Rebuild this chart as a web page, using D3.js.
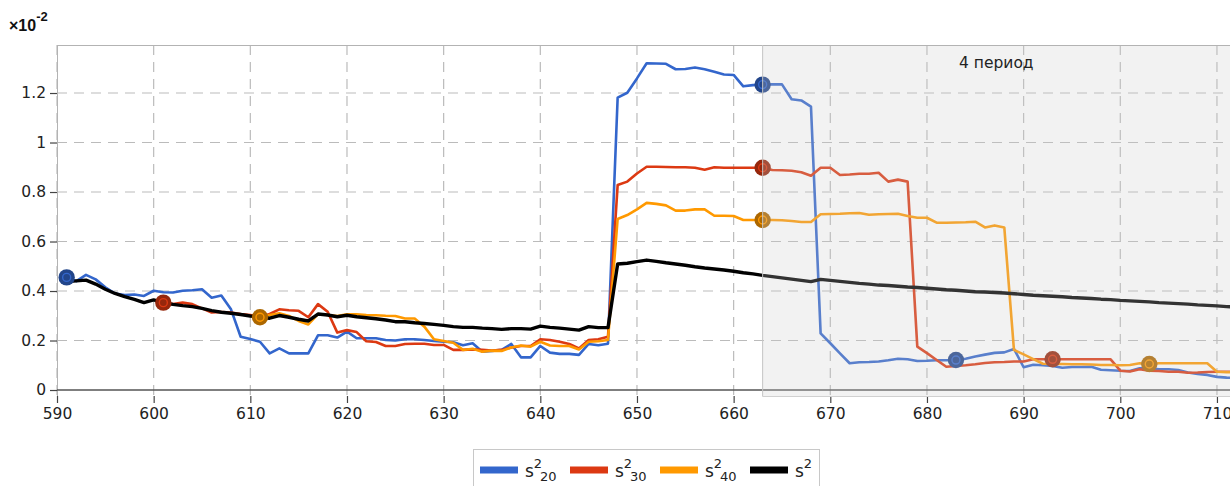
<!DOCTYPE html>
<html>
<head>
<meta charset="utf-8">
<script src="https://cdn.jsdelivr.net/npm/d3@7"></script>
<style>
  html, body { margin: 0; padding: 0; background: #fff; }
  svg { display: block; font-family: "DejaVu Sans", Verdana, sans-serif; }
</style>
</head>
<body>
<svg id="chart" width="1230" height="486"></svg>
<script>
// x ticks (day index) and y ticks (×10^-2)
const xTicks = [590, 600, 610, 620, 630, 640, 650, 660, 670, 680, 690, 700, 710];
const yTicks = [0, 0.2, 0.4, 0.6, 0.8, 1, 1.2];
const yTickLabels = ["0", "0.2", "0.4", "0.6", "0.8", "1", "1.2"];

// first day of each series
const start20 = 591, start30 = 601, start40 = 611, startAll = 591;

// s²20 — window of 20
const s20 = [
  0.455, 0.44, 0.465, 0.447, 0.415, 0.39, 0.384, 0.386, 0.38, 0.401,
  0.395, 0.394, 0.401, 0.403, 0.407, 0.373, 0.382, 0.326, 0.215, 0.206,
  0.195, 0.148, 0.168, 0.148, 0.148, 0.148, 0.221, 0.221, 0.212, 0.236,
  0.209, 0.209, 0.209, 0.202, 0.2, 0.205, 0.205, 0.202, 0.198, 0.195,
  0.193, 0.181, 0.189, 0.155, 0.158, 0.162, 0.186, 0.132, 0.132, 0.178,
  0.151, 0.146, 0.146, 0.142, 0.186, 0.181, 0.187, 1.181, 1.201, 1.259,
  1.32, 1.319, 1.318, 1.296, 1.297, 1.303, 1.296, 1.286, 1.275, 1.273,
  1.227, 1.232, 1.234, 1.235, 1.235, 1.175, 1.17, 1.145, 0.229, 0.189,
  0.148, 0.108, 0.112, 0.113, 0.115, 0.12, 0.126, 0.124, 0.117, 0.118,
  0.12, 0.12, 0.121, 0.126, 0.135, 0.143, 0.15, 0.152, 0.166, 0.092,
  0.102, 0.1, 0.097, 0.09, 0.093, 0.093, 0.094, 0.082, 0.08, 0.078,
  0.077, 0.088, 0.088, 0.084, 0.084, 0.081, 0.071, 0.065, 0.061, 0.053,
  0.05, 0.048
];

// s²30 — window of 30
const s30 = [
  0.353, 0.347, 0.353, 0.347, 0.33, 0.313, 0.315, 0.313, 0.307, 0.303,
  0.294, 0.307, 0.326, 0.322, 0.32, 0.294, 0.347, 0.316, 0.232, 0.242,
  0.234, 0.197, 0.194, 0.178, 0.178, 0.186, 0.187, 0.187, 0.182, 0.182,
  0.162, 0.162, 0.164, 0.162, 0.159, 0.162, 0.172, 0.178, 0.178, 0.205,
  0.202, 0.195, 0.186, 0.168, 0.202, 0.205, 0.215, 0.828, 0.842, 0.875,
  0.902, 0.902, 0.901, 0.9, 0.9, 0.898, 0.89, 0.9, 0.898, 0.898,
  0.898, 0.898, 0.898, 0.889, 0.888, 0.886, 0.88, 0.866, 0.898, 0.898,
  0.869, 0.871, 0.874, 0.874, 0.878, 0.842, 0.85, 0.842, 0.175, 0.149,
  0.121, 0.094, 0.097, 0.1, 0.104, 0.109, 0.112, 0.113, 0.115, 0.115,
  0.124, 0.124, 0.124, 0.124, 0.124, 0.124, 0.124, 0.124, 0.124, 0.078,
  0.075, 0.084, 0.078, 0.077, 0.074, 0.074, 0.07, 0.071, 0.073, 0.074,
  0.074, 0.074
];

// s²40 — window of 40
const s40 = [
  0.294, 0.303, 0.31, 0.299, 0.279, 0.265, 0.307, 0.303, 0.299, 0.306,
  0.306, 0.303, 0.302, 0.3, 0.299, 0.289, 0.289, 0.256, 0.205, 0.198,
  0.191, 0.162, 0.167, 0.155, 0.159, 0.158, 0.172, 0.18, 0.175, 0.195,
  0.18, 0.178, 0.178, 0.164, 0.195, 0.197, 0.202, 0.691, 0.707, 0.73,
  0.756, 0.752, 0.746, 0.725, 0.725, 0.73, 0.73, 0.704, 0.704, 0.703,
  0.687, 0.687, 0.687, 0.687, 0.686, 0.683, 0.679, 0.679, 0.71, 0.711,
  0.712, 0.714, 0.715, 0.708, 0.71, 0.711, 0.712, 0.703, 0.696, 0.696,
  0.676, 0.676, 0.677, 0.678, 0.68, 0.657, 0.665, 0.657, 0.162, 0.144,
  0.125, 0.106, 0.105, 0.105, 0.104, 0.104, 0.103, 0.101, 0.101, 0.1,
  0.101, 0.108, 0.105, 0.108, 0.108, 0.108, 0.108, 0.108, 0.108, 0.074,
  0.072, 0.072
];

// s² — cumulative
const sAll = [
  0.438, 0.441, 0.444, 0.428, 0.407, 0.39, 0.377, 0.366, 0.353, 0.364,
  0.353, 0.346, 0.341, 0.337, 0.33, 0.321, 0.314, 0.31, 0.305, 0.299,
  0.294, 0.29, 0.301, 0.294, 0.286, 0.279, 0.307, 0.303, 0.296, 0.302,
  0.296, 0.292, 0.288, 0.283, 0.276, 0.276, 0.272, 0.269, 0.265, 0.261,
  0.256, 0.253, 0.253, 0.25, 0.248, 0.245, 0.248, 0.248, 0.246, 0.258,
  0.253, 0.25, 0.246, 0.242, 0.256, 0.252, 0.252, 0.509, 0.512, 0.519,
  0.525, 0.52, 0.514, 0.509, 0.504, 0.498, 0.493, 0.489, 0.485, 0.48,
  0.474, 0.469, 0.463, 0.458, 0.453, 0.448, 0.443, 0.438, 0.447, 0.443,
  0.439, 0.435, 0.431, 0.428, 0.424, 0.422, 0.419, 0.416, 0.414, 0.411,
  0.408, 0.405, 0.403, 0.4, 0.397, 0.396, 0.394, 0.392, 0.389, 0.386,
  0.383, 0.381, 0.379, 0.377, 0.374, 0.372, 0.37, 0.367, 0.365, 0.362,
  0.36, 0.358, 0.356, 0.353, 0.351, 0.349, 0.347, 0.344, 0.342, 0.34,
  0.337, 0.335
];

// highlighted points (day) per series
const marks20 = [591, 663, 683];
const marks30 = [601, 663, 693];
const marks40 = [611, 663, 703];

// period band
const periodStart = 663;
const periodLabel = "4 период";

const colors = { s20: "#3366cc", s30: "#dc3912", s40: "#ff9900", sAll: "#000000" };

const plotLeft = 57, plotRight = 1230, plotTop = 45, plotBottom = 396;
const tickFont = "'DejaVu Sans', Verdana, sans-serif";

const x = d3.scaleLinear().domain([590, 711.35]).range([plotLeft, plotRight]);
const y = d3.scaleLinear().domain([-0.0242, 1.394]).range([plotBottom, plotTop]);

const svg = d3.select("#chart");

svg.append("defs").append("clipPath").attr("id", "plotclip")
  .append("rect").attr("x", plotLeft).attr("y", plotTop - 2)
  .attr("width", plotRight - plotLeft).attr("height", plotBottom - plotTop + 4);

// grid
const grid = svg.append("g");
grid.selectAll("line.v").data(xTicks).join("line")
  .attr("x1", d => x(d)).attr("x2", d => x(d))
  .attr("y1", plotTop).attr("y2", plotBottom)
  .attr("stroke", "#bbbbbb").attr("stroke-width", 1.2)
  .attr("stroke-dasharray", "10,7");
grid.selectAll("line.h").data(yTicks.filter(d => d !== 0)).join("line")
  .attr("x1", plotLeft).attr("x2", plotRight)
  .attr("y1", d => y(d)).attr("y2", d => y(d))
  .attr("stroke", "#bbbbbb").attr("stroke-width", 1.2)
  .attr("stroke-dasharray", "10,7");

// frame
svg.append("line").attr("x1", plotLeft).attr("x2", plotRight)
  .attr("y1", plotTop + 0.5).attr("y2", plotTop + 0.5).attr("stroke", "#b3b3b3");
svg.append("line").attr("x1", plotLeft + 0.5).attr("x2", plotLeft + 0.5)
  .attr("y1", plotTop).attr("y2", plotBottom).attr("stroke", "#b3b3b3");

// zero baseline
svg.append("line").attr("x1", plotLeft).attr("x2", plotRight).attr("y1", y(0)).attr("y2", y(0))
  .attr("stroke", "#555").attr("stroke-width", 1.6);

// axes
const xAxis = d3.axisBottom(x).tickValues(xTicks).tickSize(7).tickPadding(5).tickFormat(d3.format("d"));
const gx = svg.append("g").attr("transform", `translate(0,${plotBottom})`).call(xAxis);
gx.select(".domain").remove();
gx.selectAll(".tick line").attr("stroke", "#444").attr("stroke-width", 1.2);
gx.selectAll(".tick text").attr("fill", "#222").style("font-size", "15.5px")
  .style("font-family", tickFont);

const yAxis = d3.axisLeft(y).tickValues(yTicks).tickSize(7).tickPadding(4)
  .tickFormat((d, i) => yTickLabels[i]);
const gy = svg.append("g").attr("transform", `translate(${plotLeft},0)`).call(yAxis);
gy.select(".domain").remove();
gy.selectAll(".tick line").attr("stroke", "#444").attr("stroke-width", 1.2);
gy.selectAll(".tick text").attr("fill", "#222").style("font-size", "15.5px")
  .style("font-family", tickFont);

// scale factor label
const unit = svg.append("text").attr("x", 9).attr("y", 31)
  .attr("fill", "#111").style("font-family", "'Liberation Sans', Arial, sans-serif")
  .style("font-size", "16px").style("font-weight", "bold");
unit.append("tspan").text("×10");
unit.append("tspan").attr("dy", -10).style("font-size", "13px").text("-2");

// series
const series = [
  { key: "s20", start: start20, values: s20, marks: marks20, width: 2.6 },
  { key: "s30", start: start30, values: s30, marks: marks30, width: 2.6 },
  { key: "s40", start: start40, values: s40, marks: marks40, width: 2.6 },
  { key: "sAll", start: startAll, values: sAll, marks: [], width: 3.4 }
];

const plot = svg.append("g").attr("clip-path", "url(#plotclip)");
const line = d3.line().x(d => x(d.day)).y(d => y(d.v));

series.forEach(s => {
  const pts = s.values.map((v, i) => ({ day: s.start + i, v }));
  plot.append("path").datum(pts)
    .attr("d", line)
    .attr("fill", "none")
    .attr("stroke", colors[s.key])
    .attr("stroke-width", s.width)
    .attr("stroke-linejoin", "round");
});

series.forEach(s => {
  s.marks.forEach(day => {
    const v = s.values[day - s.start];
    const c = d3.color(colors[s.key]);
    const g = plot.append("g").attr("transform", `translate(${x(day)},${y(v)})`);
    g.append("circle").attr("r", 8.2).attr("fill", c.darker(1.1).formatHex());
    g.append("circle").attr("r", 4).attr("fill", "none")
      .attr("stroke", c.formatHex()).attr("stroke-width", 1.4);
  });
});

// period band drawn over the lines
const band = svg.append("g");
band.append("rect")
  .attr("x", x(periodStart)).attr("y", plotTop + 1)
  .attr("width", plotRight - x(periodStart)).attr("height", plotBottom - plotTop)
  .attr("fill", "rgb(205,205,205)").attr("fill-opacity", 0.25);
band.append("line")
  .attr("x1", x(periodStart)).attr("x2", x(periodStart))
  .attr("y1", plotTop).attr("y2", plotBottom + 0.5)
  .attr("stroke", "#c4c4c4").attr("stroke-width", 1);
band.append("line")
  .attr("x1", x(periodStart)).attr("x2", plotRight)
  .attr("y1", plotBottom + 0.5).attr("y2", plotBottom + 0.5)
  .attr("stroke", "#d0d0d0").attr("stroke-width", 1);
band.append("text")
  .attr("x", (x(periodStart) + plotRight) / 2).attr("y", 68)
  .attr("text-anchor", "middle").attr("fill", "#222")
  .style("font-family", tickFont)
  .style("font-size", "15.5px").text(periodLabel);

// legend
const legendItems = [
  { key: "s20", sub: "20", sup: "2" },
  { key: "s30", sub: "30", sup: "2" },
  { key: "s40", sub: "40", sup: "2" },
  { key: "sAll", sub: "", sup: "2" }
];
const legend = svg.append("g");
legend.append("rect").attr("x", 473.5).attr("y", 449.5).attr("width", 346).attr("height", 50)
  .attr("fill", "#fff").attr("stroke", "#c8c8c8");
const items = legend.selectAll("g.item").data(legendItems).join("g")
  .attr("transform", (d, i) => `translate(${480 + i * 90},0)`);
items.append("rect").attr("x", 0).attr("y", 466.5).attr("width", 38).attr("height", 7)
  .attr("fill", d => colors[d.key]);
const lt = items.append("text").attr("x", 45).attr("y", 477).attr("fill", "#222")
  .style("font-family", tickFont).style("font-size", "17px");
lt.append("tspan").text("s");
lt.append("tspan").attr("dy", -9).style("font-size", "13px").text(d => d.sup);
lt.append("tspan").attr("x", 60).attr("dy", 13)
  .style("font-size", "13px").text(d => d.sub);
</script>
</body>
</html>
